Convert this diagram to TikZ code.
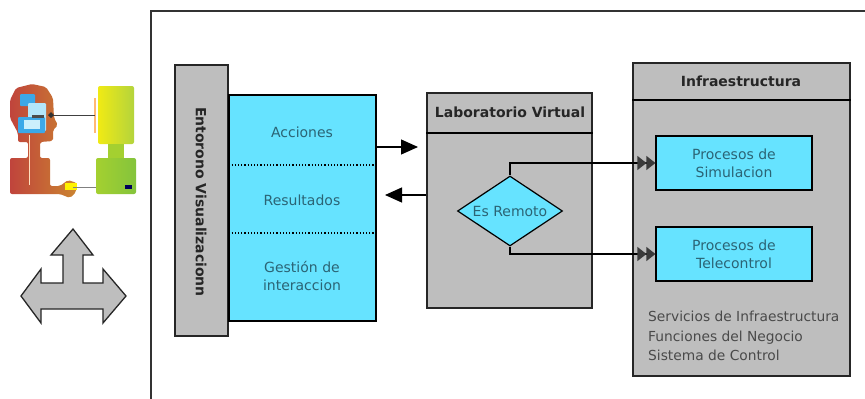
\documentclass[tikz,border=0pt]{standalone}
\usepackage{fontspec}
\setmainfont{DejaVu Sans}
\usetikzlibrary{shapes.geometric,arrows.meta,calc}
\definecolor{panelgray}{HTML}{BEBEBE}
\definecolor{cellcyan}{HTML}{66E3FF}
\definecolor{celltext}{HTML}{2B6475}
\definecolor{graytext}{HTML}{4A4A4A}
\definecolor{tipgray}{HTML}{3A3A3A}
\definecolor{skinL}{HTML}{C0443C}
\definecolor{skinR}{HTML}{CB8530}
\definecolor{devA}{HTML}{F0EA14}
\definecolor{devB}{HTML}{B4D43C}
\definecolor{devC}{HTML}{A4D030}
\definecolor{devD}{HTML}{84C43C}
\definecolor{iconblue}{HTML}{3CA8E8}
\tikzset{
  x=1pt,y=-1pt,
  panel/.style={draw=black!85,line width=1.3pt,fill=panelgray,inner sep=0pt},
  cell/.style={draw=black,line width=1.2pt,fill=cellcyan,inner sep=0pt,text=celltext,font=\fontsize{14}{18}\selectfont,align=center},
  celltxt/.style={text=celltext,font=\fontsize{14}{18}\selectfont,align=center,inner sep=0pt},
  headtxt/.style={font=\fontsize{14}{16}\selectfont\bfseries,text=black!85,inner sep=0pt},
  link/.style={draw=black,line width=1.2pt},
  bigtip/.style={-{Triangle[length=17pt,width=15pt]}},
  doubletip/.style={-{Triangle[length=9pt,width=14pt,color=tipgray]Triangle[length=9pt,width=14pt,color=tipgray]}},
}
\begin{document}
\begin{tikzpicture}
\useasboundingbox (0,0) rectangle (865,399);
\fill[white] (0,0) rectangle (865,399);
% frame
\draw[line width=1.4pt,black!80] (151,399) -- (151,11) -- (865,11);
% icon: person
\shade[left color=skinL,right color=skinR,rounded corners=2pt]
 (10,194) -- (10,158) -- (28,158) -- (28,142) -- (18,142) -- (18,133) -- (10,118) -- (10,100) -- (16,88) -- (32,84) -- (46,87) -- (53,98) -- (54,118) -- (58,125) -- (53,130) -- (53,141) -- (40,142) -- (40,158) -- (50,158) -- (50,186) -- (60,186) -- (68,180) -- (77,183) -- (76,192) -- (70,198) -- (60,194) -- cycle;
\draw[orange!25,line width=.8pt] (29,135) -- (29,185);
\fill[iconblue,rounded corners=1pt] (20,94) rectangle (35,106);
\fill[white!70!cyan,rounded corners=1pt] (28,103) rectangle (46,131);
\fill[iconblue,rounded corners=1pt] (18,117) rectangle (45,133);
\fill[white!80!cyan] (24,120) rectangle (40,129);
\fill[black!70] (32,114.5) rectangle (44,117.5);
\fill[yellow] (65,183) rectangle (77,190);
% icon: device
\shade[left color=devA,right color=devB,rounded corners=2pt] (98,86) rectangle (134,144);
\fill[devC] (108,144) rectangle (124,158);
\shade[left color=devC,right color=devD,rounded corners=2pt] (96,158) rectangle (136,194);
\fill[blue!35!black] (125,185) rectangle (132,188.5);
\draw[orange!55,line width=1.4pt] (95,98) -- (95,133);
\draw[black!75,line width=1pt] (50,115) -- (95,115);
\fill[black!80] (48,115) -- (51,112) -- (54,115) -- (51,118) -- cycle;
\draw[black!50,line width=1pt] (73,187) -- (96,187);
% three-way arrow
\draw[panel] (73,229) -- (93,255) -- (83,255) -- (83,283) -- (103,283) -- (103,269) -- (126,296) -- (103,323) -- (103,309) -- (41,309) -- (41,323) -- (21,296) -- (41,269) -- (41,283) -- (63,283) -- (63,255) -- (51,255) -- cycle;
% Entorno
\node[panel,minimum width=53pt,minimum height=271pt] (ent) at (201.5,200.5) {};
\node[headtxt,rotate=-90] (enttxt) at (201,202) {Entorono Visualizacionn};
% cyan column
\node[cell,minimum width=147pt,minimum height=226pt] (col) at (302.5,208) {};
\draw[black,line width=1.2pt,dotted] (col.west |- 0,165) coordinate (d1) -- (col.east |- 0,165);
\draw[black,line width=1.2pt,dotted] (col.west |- 0,233) coordinate (d2) -- (col.east |- 0,233);
\node[celltxt] (acc) at (302,132) {Acciones};
\node[celltxt] (res) at (302,200) {Resultados};
\node[celltxt] (ges) at (302,276) {Gestión de\\interaccion};
% Laboratorio
\node[panel,minimum width=165pt,minimum height=215pt] (lab) at (509.5,200.5) {};
\draw[link] (lab.west |- 0,133) -- (lab.east |- 0,133);
\node[headtxt] (labtxt) at (510,112) {Laboratorio Virtual};
\node[diamond,draw=black,line width=1.2pt,fill=cellcyan,inner sep=0pt,minimum width=105pt,minimum height=70pt] (dec) at (510,211) {};
\node[celltxt] (dectxt) at (510,211) {Es Remoto};
% Infraestructura
\node[panel,minimum width=217pt,minimum height=313pt] (inf) at (741.5,219.5) {};
\draw[black,line width=2.2pt] (inf.west |- 0,100) -- (inf.east |- 0,100);
\node[headtxt] (inftxt) at (741,81) {Infraestructura};
\node[cell,minimum width=156pt,minimum height=54pt] (sim) at (734,163) {Procesos de\\Simulacion};
\node[cell,minimum width=156pt,minimum height=54pt] (tel) at (734,254) {Procesos de\\Telecontrol};
\node[anchor=north west,inner sep=0pt,text=graytext,align=left,font=\fontsize{13.8}{19.5}\selectfont] (svc) at (648,311) {Servicios de Infraestructura\\Funciones del Negocio\\Sistema de Control};
% connectors
\coordinate (fromcol) at (col.east |- 0,147);
\coordinate (toLab) at (418,147);
\coordinate (fromlab) at (lab.west |- 0,195);
\coordinate (toCol) at (385,195);
\draw[link,bigtip] (fromcol) -- (toLab);
\draw[link,bigtip] (fromlab) -- (toCol);
\draw[link,doubletip] (dec.north) |- (sim.west);
\draw[link,doubletip] (dec.south) |- (tel.west);
\end{tikzpicture}
\end{document}
